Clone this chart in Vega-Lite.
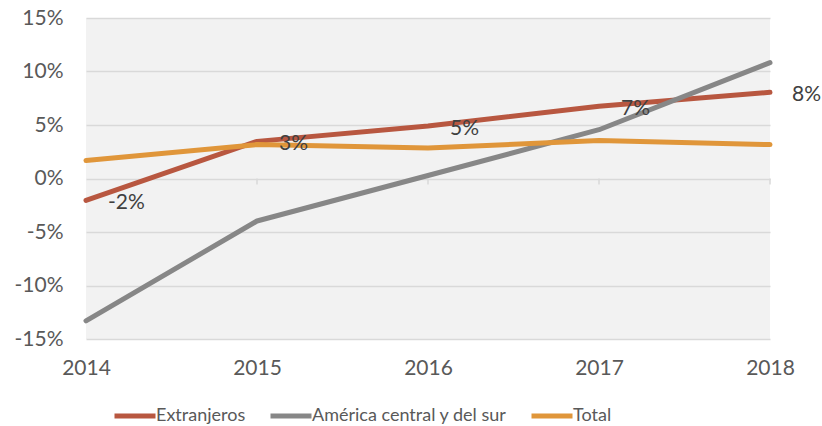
{
  "$schema": "https://vega.github.io/schema/vega-lite/v6.json",
  "width": 684,
  "height": 321,
  "autosize": "none",
  "padding": {"left": 86, "top": 18, "right": 52, "bottom": 87},
  "background": "white",
  "config": {
    "view": {"fill": "#F2F2F2", "stroke": null},
    "font": "Lato"
  },
  "data": {
    "values": [
      {"year": 2014, "series": "Extranjeros", "v": -2.05},
      {"year": 2015, "series": "Extranjeros", "v": 3.47},
      {"year": 2016, "series": "Extranjeros", "v": 4.9},
      {"year": 2017, "series": "Extranjeros", "v": 6.75},
      {"year": 2018, "series": "Extranjeros", "v": 8.05},
      {"year": 2014, "series": "América central y del sur", "v": -13.3},
      {"year": 2015, "series": "América central y del sur", "v": -3.97},
      {"year": 2016, "series": "América central y del sur", "v": 0.28},
      {"year": 2017, "series": "América central y del sur", "v": 4.56},
      {"year": 2018, "series": "América central y del sur", "v": 10.83},
      {"year": 2014, "series": "Total", "v": 1.68},
      {"year": 2015, "series": "Total", "v": 3.17},
      {"year": 2016, "series": "Total", "v": 2.86},
      {"year": 2017, "series": "Total", "v": 3.54},
      {"year": 2018, "series": "Total", "v": 3.17}
    ]
  },
  "encoding": {
    "x": {
      "field": "year", "type": "quantitative",
      "scale": {"domain": [2014, 2018], "nice": false, "zero": false},
      "axis": {
        "values": [2014, 2015, 2016, 2017, 2018], "format": "d", "title": null,
        "domain": false, "ticks": false, "grid": false, "labelFlush": false, "labelBound": false,
        "labelFontSize": 21, "labelColor": "#595959", "labelPadding": 18, "labelFont": "Lato"
      }
    }
  },
  "layer": [
    {
      "mark": {"type": "rule", "color": "#D9D9D9", "strokeWidth": 1.5},
      "data": {"values": [{"year": 2015}, {"year": 2016}, {"year": 2017}, {"year": 2018}]},
      "encoding": {
        "x": {"field": "year", "type": "quantitative"},
        "y": {"datum": 0},
        "y2": {"datum": -0.55}
      }
    },
    {
      "mark": {"type": "line", "strokeWidth": 5, "strokeCap": "round", "strokeJoin": "round"},
      "encoding": {
        "y": {
          "field": "v", "type": "quantitative",
          "scale": {"domain": [-15, 15], "nice": false},
          "axis": {
            "values": [-15, -10, -5, 0, 5, 10, 15], "title": null,
            "labelExpr": "datum.value + '%'",
            "domain": false, "ticks": false, "grid": true, "gridColor": "#D9D9D9", "gridWidth": 1.5,
            "labelFontSize": 21, "labelColor": "#595959", "labelPadding": 23, "labelFont": "Lato"
          }
        },
        "color": {
          "field": "series", "type": "nominal",
          "scale": {
            "domain": ["Extranjeros", "América central y del sur", "Total"],
            "range": ["#B85740", "#878787", "#E0963A"]
          },
          "legend": {
            "orient": "none", "legendX": 26, "legendY": 375, "direction": "horizontal", "title": null,
            "symbolType": "stroke", "symbolSize": 1681, "symbolStrokeWidth": 5,
            "labelFontSize": 18, "labelColor": "#595959", "labelFont": "Lato", "labelLimit": 400,
            "columnPadding": 14, "labelOffset": -2
          }
        },
        "order": {"field": "year"}
      }
    },
    {
      "transform": [
        {"filter": "datum.series === 'Extranjeros'"},
        {"calculate": "(datum.v < 0 ? '-' : '') + round(abs(datum.v)) + '%'", "as": "label"}
      ],
      "mark": {"type": "text", "align": "left", "baseline": "middle", "dx": 22, "dy": 3, "fontSize": 21, "color": "#404040", "font": "Lato"},
      "encoding": {
        "y": {"field": "v", "type": "quantitative"},
        "text": {"field": "label"}
      }
    }
  ]
}
